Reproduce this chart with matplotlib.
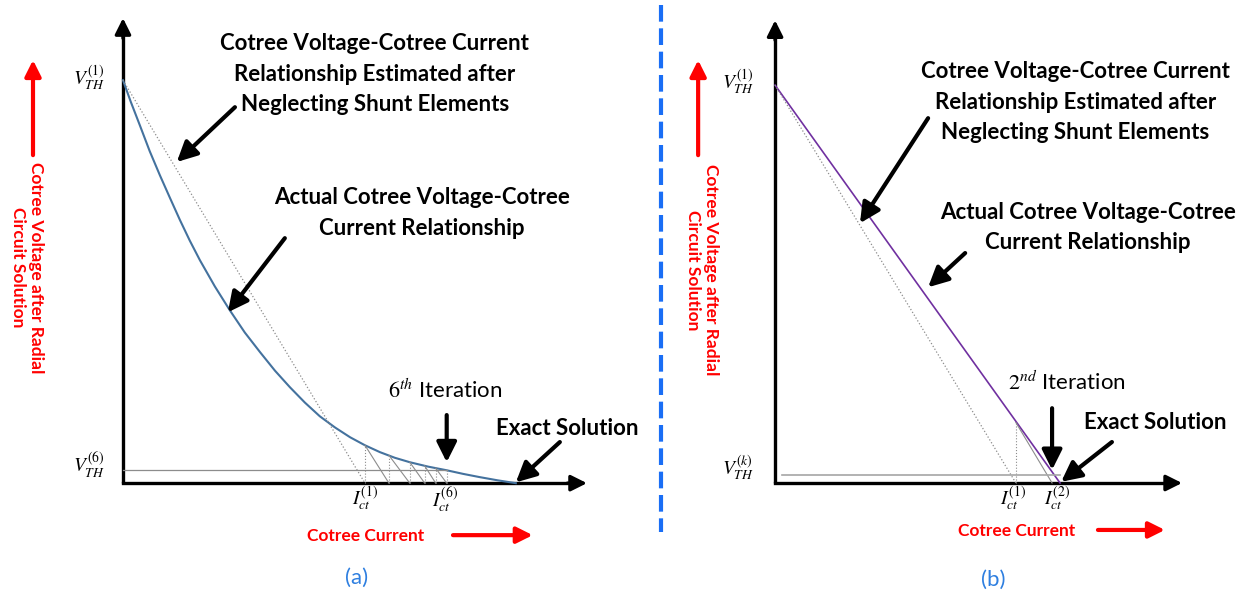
"""Cotree voltage / cotree current iteration sketch, two panels."""

import matplotlib

matplotlib.use("Agg")

import matplotlib.pyplot as plt
from matplotlib.lines import Line2D

plt.rcParams["font.family"] = ["Lato", "DejaVu Sans"]
plt.rcParams["mathtext.fontset"] = "stix"

# panel (a): actual relationship (per unit current, per unit voltage)
actual_a_current = [0.0, 0.020, 0.043, 0.068, 0.094, 0.120, 0.145, 0.170,
                    0.196, 0.234, 0.272, 0.310, 0.349, 0.387, 0.425, 0.463,
                    0.501, 0.540, 0.578, 0.616, 0.654, 0.692, 0.730, 0.777,
                    0.824, 0.866, 0.908, 0.954, 1.0]
actual_a_voltage = [1.0, 0.946, 0.888, 0.824, 0.764, 0.707, 0.653, 0.602,
                    0.553, 0.488, 0.429, 0.374, 0.325, 0.279, 0.238, 0.200,
                    0.166, 0.138, 0.114, 0.094, 0.077, 0.063, 0.052, 0.041,
                    0.032, 0.023, 0.015, 0.007, 0.0]
# iterates of the shunt-free estimate
iter_a_current = [0.616, 0.677, 0.730, 0.768, 0.796, 0.824]
iter_a_voltage = [0.094, 0.069, 0.052, 0.043, 0.037, 0.032]

# panel (b): linear relationship, two iterations
actual_b_current = [0.0, 1.0]
actual_b_voltage = [1.0, 0.0]
iter_b_current = [0.845, 0.972]
iter_b_voltage = [0.152, 0.0]
vk_b = 0.020

BLUE_CURVE = "#44729E"
PURPLE = "#7030A0"
RED = "#FF0000"
GREY = "#8C8C8C"
TAG_BLUE = "#2E7FE0"

TITLE_EST = "Cotree Voltage-Cotree Current\nRelationship Estimated after\nNeglecting Shunt Elements"
TITLE_ACT = "Actual Cotree Voltage-Cotree\nCurrent Relationship"
YLABEL = "Cotree Voltage after Radial\nCircuit Solution"

fig = plt.figure(figsize=(12.47, 5.96), dpi=100)
ax_a = fig.add_axes([0, 0, 640 / 1247, 1])
ax_b = fig.add_axes([640 / 1247, 0, 607 / 1247, 1])
ax_a.set_xlim(-0.313, 1.316)
ax_a.set_ylim(-0.280, 1.199)
ax_b.set_xlim(-0.474, 1.656)
ax_b.set_ylim(-0.284, 1.214)
for ax in (ax_a, ax_b):
    ax.axis("off")


def arrow(ax, start, end, color="black", lw=3.0, scale=15):
    ax.annotate(
        "", xy=end, xytext=start,
        arrowprops=dict(arrowstyle="-|>,head_width=0.4,head_length=0.8",
                        color=color, lw=lw, mutation_scale=scale,
                        shrinkA=0, shrinkB=0),
        annotation_clip=False,
    )


def draw_frame(ax, ytop, xright, ylab_x, ylab_arrow_x, ylab_arrow_y):
    ax.plot([0, 0], [0, ytop - 0.03], color="black", lw=2.4, solid_capstyle="butt")
    ax.plot([0, xright - 0.03], [0, 0], color="black", lw=2.4, solid_capstyle="projecting")
    arrow(ax, (0, ytop - 0.05), (0, ytop), lw=2.4, scale=12)
    arrow(ax, (xright - 0.05, 0), (xright, 0), lw=2.4, scale=12)
    ax.text(ylab_x, 0.535, YLABEL, rotation=-90, color=RED, fontsize=12.5,
            fontweight="bold", ha="center", va="center", multialignment="center",
            linespacing=1.2)
    arrow(ax, (ylab_arrow_x, ylab_arrow_y[0]), (ylab_arrow_x, ylab_arrow_y[1]),
          color=RED, lw=3.0, scale=12)


def bold(ax, x, y, text):
    ax.text(x, y, text, fontsize=16, fontweight="bold", ha="center",
            va="center", linespacing=1.55)


# ---- panel (a)
draw_frame(ax_a, 1.154, 1.181, -0.244, -0.229, (0.814, 1.050))
ax_a.plot(actual_a_current, actual_a_voltage, color=BLUE_CURVE, lw=1.5)
ax_a.plot([0, iter_a_current[0]], [1.0, 0], color=GREY, lw=0.9, ls=":")
for k, (i_k, v_k) in enumerate(zip(iter_a_current, iter_a_voltage)):
    ax_a.plot([i_k, i_k], [0, v_k], color=GREY, lw=0.8, ls=":")
    if k + 1 < len(iter_a_current):
        ax_a.plot([i_k, iter_a_current[k + 1]], [v_k, 0], color=GREY, lw=0.8)
ax_a.plot([0, iter_a_current[-1]], [iter_a_voltage[-1]] * 2, color=GREY, lw=0.9)

ax_a.text(-0.045, 1.005, r"$V_{TH}^{(1)}$", fontsize=14, ha="right", va="center")
ax_a.text(-0.045, 0.045, r"$V_{TH}^{(6)}$", fontsize=14, ha="right", va="center")
ax_a.text(iter_a_current[0], -0.040, r"$I_{ct}^{(1)}$", fontsize=14, ha="center", va="center")
ax_a.text(iter_a_current[-1] - 0.005, -0.040, r"$I_{ct}^{(6)}$", fontsize=14, ha="center", va="center")

bold(ax_a, 0.641, 1.015, TITLE_EST)
arrow(ax_a, (0.285, 0.933), (0.137, 0.797))
bold(ax_a, 0.761, 0.670, TITLE_ACT)
arrow(ax_a, (0.412, 0.608), (0.267, 0.424))
ax_a.text(0.82, 0.231, r"$6^{th}$ Iteration", fontsize=16, ha="center", va="center")
arrow(ax_a, (0.824, 0.169), (0.824, 0.052))
bold(ax_a, 1.13, 0.136, "Exact Solution")
arrow(ax_a, (1.112, 0.102), (1.0, 0.002))
ax_a.text(0.618, -0.132, "Cotree Current", color=RED, fontsize=12.5,
          fontweight="bold", ha="center", va="center")
arrow(ax_a, (0.840, -0.129), (1.043, -0.129), color=RED, lw=3.0, scale=12)
ax_a.text(0.595, -0.236, "(a)", color=TAG_BLUE, fontsize=16, ha="center", va="center")

# ---- panel (b)
draw_frame(ax_b, 1.163, 1.428, -0.256, -0.270, (0.824, 1.063))
ax_b.plot(actual_b_current, actual_b_voltage, color=PURPLE, lw=1.2)
ax_b.plot([0, iter_b_current[0]], [1.0, 0], color=GREY, lw=0.9, ls=":")
ax_b.plot([iter_b_current[0]] * 2, [0, iter_b_voltage[0]], color=GREY, lw=0.8, ls=":")
ax_b.plot(iter_b_current, iter_b_voltage, color=GREY, lw=0.8)
ax_b.plot([0.025, 1.0], [vk_b, vk_b], color="#A6A6A6", lw=1.2)

ax_b.text(-0.075, 1.008, r"$V_{TH}^{(1)}$", fontsize=14, ha="right", va="center")
ax_b.text(-0.075, 0.038, r"$V_{TH}^{(k)}$", fontsize=14, ha="right", va="center")
ax_b.text(0.835, -0.040, r"$I_{ct}^{(1)}$", fontsize=14, ha="center", va="center")
ax_b.text(0.99, -0.040, r"$I_{ct}^{(2)}$", fontsize=14, ha="center", va="center")

bold(ax_b, 1.053, 0.957, TITLE_EST)
arrow(ax_b, (0.537, 0.917), (0.298, 0.653))
bold(ax_b, 1.098, 0.643, TITLE_ACT)
arrow(ax_b, (0.667, 0.578), (0.537, 0.492))
ax_b.text(1.025, 0.254, r"$2^{nd}$ Iteration", fontsize=16, ha="center", va="center")
arrow(ax_b, (0.972, 0.188), (0.972, 0.033))
bold(ax_b, 1.333, 0.151, "Exact Solution")
arrow(ax_b, (1.182, 0.103), (1.004, 0.003))
ax_b.text(0.846, -0.121, "Cotree Current", color=RED, fontsize=12.5,
          fontweight="bold", ha="center", va="center")
arrow(ax_b, (1.133, -0.118), (1.368, -0.118), color=RED, lw=3.0, scale=12)
ax_b.text(0.765, -0.244, "(b)", color=TAG_BLUE, fontsize=16, ha="center", va="center")

# separator between the panels
fig.add_artist(Line2D([661 / 1247, 661 / 1247], [0.992, 0.107], transform=fig.transFigure,
                      color="#1A6EF5", lw=3.0, dashes=(4, 1.6)))

fig.savefig("out.png", dpi=100)
